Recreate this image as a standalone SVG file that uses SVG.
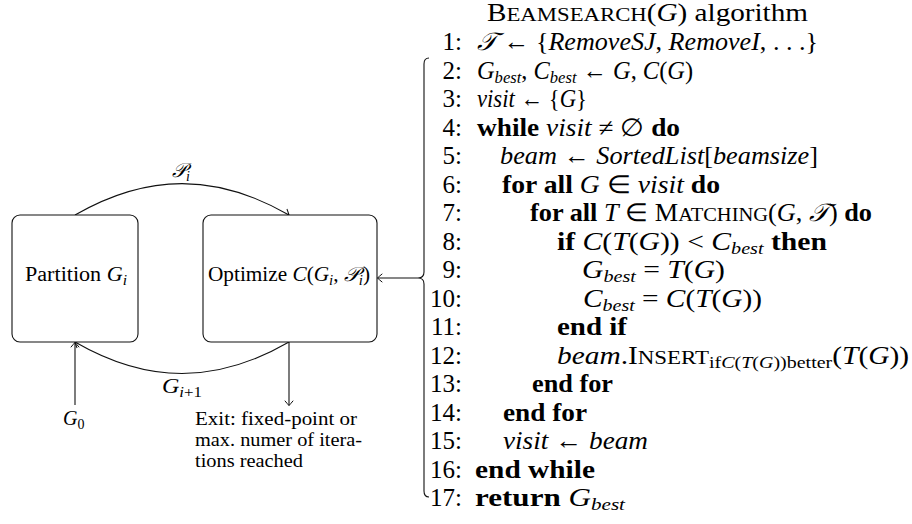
<svg xmlns="http://www.w3.org/2000/svg" width="912" height="524" viewBox="0 0 912 524">
<defs>
<style>
.t{font-family:"Liberation Serif","Times New Roman",serif;font-size:25px;fill:#000}
.l{font-family:"Liberation Serif","Times New Roman",serif;font-size:20px;fill:#000}
.e{font-family:"Liberation Serif","Times New Roman",serif;font-size:19px;fill:#000}
.n{text-anchor:end}
.i{font-style:italic}
.b{font-weight:bold}
.sc{font-size:19.5px}
.sub{font-size:17px}
.lsub{font-size:14px}
.ln{fill:none;stroke:#111;stroke-width:1.1}
.box{fill:#fff;stroke:#111;stroke-width:1.1}
</style>
<marker id="ah" viewBox="-6 -5 7 10" refX="0" refY="0" markerWidth="7" markerHeight="10" markerUnits="userSpaceOnUse" orient="auto">
<path d="M-4.8,-4.2 Q-1.2,-1.2 0,0 Q-1.2,1.2 -4.8,4.2" fill="none" stroke="#111" stroke-width="1"/>
</marker>
</defs>

<g id="connectors">
<path class="ln" d="M75,215 C147.6,173.1 216.4,173.1 289,215" marker-end="url(#ah)"/>
<path class="ln" d="M289,342 C216.4,384 147.6,384 75,342" marker-end="url(#ah)"/>
<path class="ln" d="M75,405 L75,342.5" marker-end="url(#ah)"/>
<path class="ln" d="M289,342 L289,405.5" marker-end="url(#ah)"/>
<path class="ln" d="M418,278 L377.5,278" marker-end="url(#ah)"/>
<path id="brace" class="ln" d="M429,58 Q424,58 424,64 L424,272 Q424,278 418,278 Q424,278 424,284 L424,491 Q424,497 429,497"/>
<text class="l" x="172" y="177"><tspan class="i">𝒫</tspan><tspan class="i lsub" dy="4">i</tspan></text>
<text class="l" x="162" y="393" textLength="40" lengthAdjust="spacingAndGlyphs"><tspan class="i">G</tspan><tspan class="lsub" dy="4"><tspan class="i">i</tspan>+1</tspan></text>
<text class="l" x="63" y="425"><tspan class="i">G</tspan><tspan class="lsub" dy="4">0</tspan></text>
</g>

<g id="partition">
<rect class="box" x="12" y="215" width="126" height="127" rx="8"/>
<text class="l" x="25" y="281" textLength="102" lengthAdjust="spacingAndGlyphs">Partition <tspan class="i">G</tspan><tspan class="i lsub" dy="4">i</tspan></text>
</g>

<g id="optimize">
<rect class="box" x="203" y="215" width="174" height="127" rx="8"/>
<text class="l" x="208" y="281" textLength="162" lengthAdjust="spacingAndGlyphs">Optimize <tspan class="i">C</tspan>(<tspan class="i">G</tspan><tspan class="i lsub" dy="4">i</tspan><tspan dy="-4">, </tspan><tspan class="i">𝒫</tspan><tspan class="i lsub" dy="4">i</tspan><tspan dy="-4">)</tspan></text>
</g>

<g id="exit">
<text class="e" x="195" y="425" textLength="162" lengthAdjust="spacingAndGlyphs">Exit:  fixed-point or</text>
<text class="e" x="195" y="446" textLength="167" lengthAdjust="spacingAndGlyphs">max.  numer of itera-</text>
<text class="e" x="195" y="467" textLength="108" lengthAdjust="spacingAndGlyphs">tions reached</text>
</g>

<g id="algorithm">
<text class="t" x="487" y="21" textLength="321" lengthAdjust="spacingAndGlyphs">B<tspan class="sc">EAMSEARCH</tspan>(<tspan class="i">G</tspan>) algorithm</text>

<g class="t n">
<text x="462" y="50">1:</text>
<text x="462" y="78.5">2:</text>
<text x="462" y="107">3:</text>
<text x="462" y="135.5">4:</text>
<text x="462" y="164">5:</text>
<text x="462" y="192.5">6:</text>
<text x="462" y="221">7:</text>
<text x="462" y="249.5">8:</text>
<text x="462" y="278">9:</text>
<text x="462" y="306.5">10:</text>
<text x="462" y="335">11:</text>
<text x="462" y="363.5">12:</text>
<text x="462" y="392">13:</text>
<text x="462" y="420.5">14:</text>
<text x="462" y="449">15:</text>
<text x="462" y="477.5">16:</text>
<text x="462" y="506">17:</text>
</g>

<text class="t" x="477" y="50" textLength="341" lengthAdjust="spacingAndGlyphs"><tspan class="i">𝒯</tspan> ← {<tspan class="i">RemoveSJ</tspan>, <tspan class="i">RemoveI</tspan>, . . .}</text>
<text class="t" x="477" y="78.5" textLength="216" lengthAdjust="spacingAndGlyphs"><tspan class="i">G</tspan><tspan class="i sub" dy="4">best</tspan><tspan dy="-4">, </tspan><tspan class="i">C</tspan><tspan class="i sub" dy="4">best</tspan><tspan dy="-4"> ← </tspan><tspan class="i">G</tspan>, <tspan class="i">C</tspan>(<tspan class="i">G</tspan>)</text>
<text class="t" x="477" y="107" textLength="110" lengthAdjust="spacingAndGlyphs"><tspan class="i">visit</tspan> ← {<tspan class="i">G</tspan>}</text>
<text class="t" x="477" y="135.5" textLength="203" lengthAdjust="spacingAndGlyphs"><tspan class="b">while</tspan> <tspan class="i">visit</tspan> ≠ ∅ <tspan class="b">do</tspan></text>
<text class="t" x="500" y="164" textLength="318" lengthAdjust="spacingAndGlyphs"><tspan class="i">beam</tspan> ← <tspan class="i">SortedList</tspan>[<tspan class="i">beamsize</tspan>]</text>
<text class="t" x="502" y="192.5" textLength="218" lengthAdjust="spacingAndGlyphs"><tspan class="b">for all</tspan> <tspan class="i">G</tspan> ∈ <tspan class="i">visit</tspan> <tspan class="b">do</tspan></text>
<text class="t" x="530" y="221" textLength="342" lengthAdjust="spacingAndGlyphs"><tspan class="b">for all</tspan> <tspan class="i">T</tspan> ∈ M<tspan class="sc">ATCHING</tspan>(<tspan class="i">G</tspan>, <tspan class="i">𝒯</tspan>) <tspan class="b">do</tspan></text>
<text class="t" x="557" y="249.5" textLength="270" lengthAdjust="spacingAndGlyphs"><tspan class="b">if</tspan> <tspan class="i">C</tspan>(<tspan class="i">T</tspan>(<tspan class="i">G</tspan>)) &lt; <tspan class="i">C</tspan><tspan class="i sub" dy="4">best</tspan><tspan dy="-4"> </tspan><tspan class="b">then</tspan></text>
<text class="t" x="582" y="278" textLength="143" lengthAdjust="spacingAndGlyphs"><tspan class="i">G</tspan><tspan class="i sub" dy="4">best</tspan><tspan dy="-4"> = </tspan><tspan class="i">T</tspan>(<tspan class="i">G</tspan>)</text>
<text class="t" x="583" y="306.5" textLength="179" lengthAdjust="spacingAndGlyphs"><tspan class="i">C</tspan><tspan class="i sub" dy="4">best</tspan><tspan dy="-4"> = </tspan><tspan class="i">C</tspan>(<tspan class="i">T</tspan>(<tspan class="i">G</tspan>))</text>
<text class="t b" x="557" y="335" textLength="70" lengthAdjust="spacingAndGlyphs">end if</text>
<text class="t" x="557" y="363.5" textLength="352" lengthAdjust="spacingAndGlyphs"><tspan class="i">beam</tspan>.I<tspan class="sc">NSERT</tspan><tspan class="sub" dy="4">if<tspan class="i">C</tspan>(<tspan class="i">T</tspan>(<tspan class="i">G</tspan>))better</tspan><tspan dy="-4">(</tspan><tspan class="i">T</tspan>(<tspan class="i">G</tspan>))</text>
<text class="t b" x="532" y="392" textLength="81" lengthAdjust="spacingAndGlyphs">end for</text>
<text class="t b" x="503" y="420.5" textLength="84" lengthAdjust="spacingAndGlyphs">end for</text>
<text class="t" x="503" y="449" textLength="145" lengthAdjust="spacingAndGlyphs"><tspan class="i">visit</tspan> ← <tspan class="i">beam</tspan></text>
<text class="t b" x="475" y="477.5" textLength="120" lengthAdjust="spacingAndGlyphs">end while</text>
<text class="t" x="475" y="506" textLength="150" lengthAdjust="spacingAndGlyphs"><tspan class="b">return</tspan>  <tspan class="i">G</tspan><tspan class="i sub" dy="4">best</tspan></text>
</g>
</svg>
